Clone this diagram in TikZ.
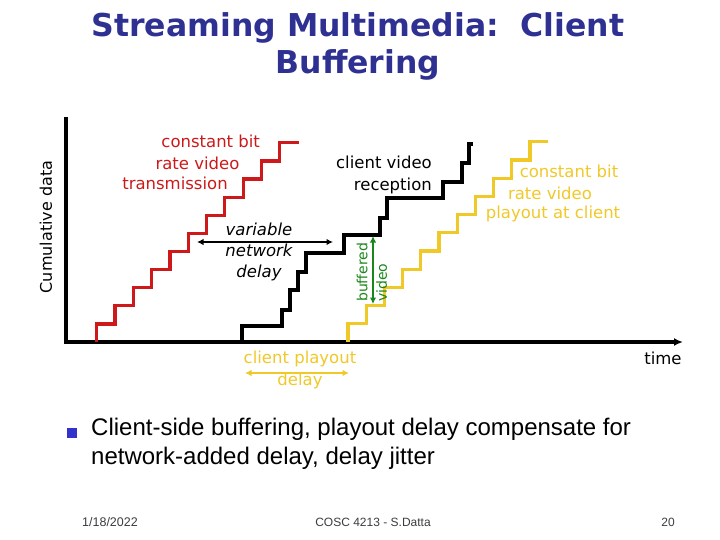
\documentclass[tikz,border=0pt]{standalone}
\usepackage{fontspec}
\setmainfont{Liberation Sans}
\newfontfamily\titlefont{DejaVu Sans}
\newfontfamily\handfont{DejaVu Sans}
\usetikzlibrary{arrows.meta}

\definecolor{titleblue}{RGB}{46,49,146}
\definecolor{sendred}{RGB}{205,25,25}
\definecolor{playgold}{RGB}{240,200,40}
\definecolor{bufgreen}{RGB}{25,135,25}
\definecolor{bulletblue}{RGB}{51,51,204}
\definecolor{footgray}{RGB}{60,60,60}

\tikzset{
  stair/.style={line width=3.2pt, line join=miter},
  lbl/.style={font=\handfont\fontsize{16.5}{21.5}\selectfont, inner sep=0pt},
  twoway/.style={line width=2pt, {Latex[length=6.5pt,width=6.5pt]}-{Latex[length=6.5pt,width=6.5pt]}}
}

\begin{document}
\begin{tikzpicture}[x=1pt,y=-1pt]

\useasboundingbox (0,0) rectangle (720,540);

% title
\node[font=\titlefont\bfseries\fontsize{31.5}{37}\selectfont, text=titleblue, align=center]
  (title) at (358,46) {Streaming Multimedia:\ \ Client\\Buffering};

% axes
\coordinate (origin) at (66,342);
\coordinate (ytop) at (66,117);
\coordinate (xend) at (683,342);
\draw[line width=3.2pt, -{Latex[length=9pt,width=8pt]}] (ytop) -- (origin) -- (xend);
\node[lbl, font=\handfont\fontsize{16}{20}\selectfont, rotate=90] (cumdata) at (46,227) {Cumulative data};
\node[lbl] (time) at (663,358) {time};

% constant bit rate transmission
\draw[stair, sendred] (96.7,342) \foreach \i in {0,...,10} { -- ++(0,-18.1) -- ++(18.3,0) } -- ++(0.3,0);
\node[lbl, text=sendred] (cbr1) at (210.7,141) {constant bit};
\node[lbl, text=sendred] (cbr2) at (197.5,163) {rate video};
\node[lbl, text=sendred] (cbr3) at (175,183) {transmission};

% client video reception
\draw[stair] (242,342) -- (242,326) -- (282,326) -- (282,310) -- (290,310) -- (290,290)
  -- (298,290) -- (298,272) -- (306,272) -- (306,253) -- (344,253) -- (344,235)
  -- (380,235) -- (380,218) -- (387,218) -- (387,198) -- (443,198) -- (443,182)
  -- (462,182) -- (462,163) -- (469,163) -- (469,144) -- (473,144);
\node[lbl, anchor=east, align=right] (recv) at (432,175) {client video\\reception};

% playout at client
\draw[stair, playgold] (348,342) \foreach \i in {0,...,10} { -- ++(0,-18.2) -- ++(18.2,0) };
\node[lbl, text=playgold] (play1) at (569,171) {constant bit};
\node[lbl, text=playgold] (play2) at (550,193) {rate video};
\node[lbl, text=playgold] (play3) at (553,214) {playout at client};

% network delay
\coordinate (netL) at (197,242);
\coordinate (netR) at (333,242);
\draw[twoway] (netL) -- (netR);
\node[lbl, font=\handfont\itshape\fontsize{16.5}{21}\selectfont, align=center] (netdelay) at (259,252) {variable\\network\\delay};

% buffered video
\coordinate (bufTop) at (373,236);
\coordinate (bufBot) at (373,304);
\draw[twoway, bufgreen] (bufTop) -- (bufBot);
\node[lbl, font=\handfont\fontsize{14}{19.5}\selectfont, text=bufgreen, rotate=90, align=left, anchor=north west]
  (buffered) at (356.5,302) {buffered\\video};

% client playout delay
\coordinate (pdL) at (245,373);
\coordinate (pdR) at (349,373);
\draw[twoway, playgold] (pdL) -- (pdR);
\node[lbl, text=playgold, align=center] (pdelay) at (300,370) {client playout\\delay};

% bullet
\fill[bulletblue] (67,428) rectangle (76.5,437.5);
\node[font=\fontsize{24}{29}\selectfont, align=left, anchor=west, inner sep=0pt] (point) at (91,444)
  {Client-side buffering, playout delay compensate for\\network-added delay, delay jitter};

% footer
\node[font=\fontsize{12.5}{14}\selectfont, text=footgray] (date) at (110,522) {1/18/2022};
\node[font=\fontsize{12}{14}\selectfont, text=footgray] (course) at (373,522) {COSC 4213 - S.Datta};
\node[font=\fontsize{12}{14}\selectfont, text=footgray] (page) at (668,522) {20};

\end{tikzpicture}
\end{document}
